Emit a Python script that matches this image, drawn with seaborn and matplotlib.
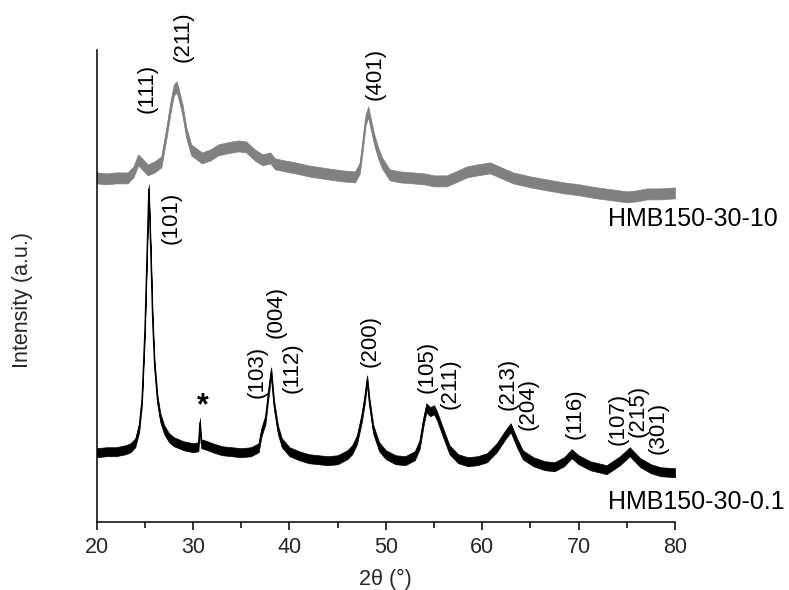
import matplotlib
matplotlib.use("Agg")
import matplotlib.pyplot as plt
import seaborn as sns
import numpy as np
import pandas as pd
from matplotlib.ticker import MultipleLocator

# ---- HMB150-30-0.1 pattern (2theta, mean intensity, a.u.) ----
two_theta_01 = [20.0, 21.0, 22.0, 23.0, 23.5, 24.0, 24.4, 24.7, 25.0, 25.2, 25.4, 25.6,
                25.8, 26.0, 26.3, 26.6, 27.0, 27.5, 28.0, 29.0, 30.0, 30.55, 30.7, 30.85,
                31.5, 32.0, 33.0, 34.0, 35.0, 36.0, 36.8, 37.1, 37.5, 37.8, 38.1, 38.4,
                38.8, 39.2, 40.0, 41.0, 42.0, 43.0, 44.0, 45.0, 46.0, 46.5, 47.0, 47.5,
                47.8, 48.06, 48.3, 48.7, 49.3, 50.0, 51.0, 52.0, 53.0, 53.5, 53.9, 54.2,
                54.6, 55.0, 55.3, 55.9, 56.6, 57.5, 58.5, 59.5, 60.5, 61.5, 62.4, 62.95,
                63.6, 64.2, 65.3, 66.5, 67.5, 68.5, 69.27, 70.0, 71.2, 72.9, 74.3, 75.3,
                76.4, 77.5, 78.5, 80.0]
intensity_01 = [69, 70, 70, 72, 74, 79, 94, 122, 192, 262, 333, 272,
                202, 157, 122, 104, 92, 84, 80, 76, 74, 75, 99, 78,
                76, 74, 71, 70, 69, 70, 74, 90, 102, 127, 150, 117,
                92, 79, 70, 66, 63, 62, 61, 62, 67, 72, 82, 104,
                122, 142, 119, 92, 75, 67, 62, 61, 66, 77, 100, 114,
                110, 112, 106, 90, 72, 63, 60, 61, 64, 74, 87, 94,
                79, 67, 60, 56, 55, 60, 68, 62, 56, 52, 61, 70,
                59, 53, 50, 49]
noise_01 = 4.5

# ---- HMB150-30-10 pattern ----
two_theta_10 = [20.0, 21.0, 22.0, 23.2, 23.8, 24.3, 24.8, 25.3, 26.0, 26.7, 27.2, 27.7,
                28.0, 28.3, 28.6, 28.9, 29.3, 29.8, 30.9, 31.8, 32.6, 33.5, 34.7, 35.5,
                36.4, 37.2, 38.0, 38.5, 39.5, 40.6, 42.0, 44.0, 45.5, 46.8, 47.3, 47.6,
                47.9, 48.17, 48.5, 48.8, 49.2, 49.6, 50.4, 51.5, 52.8, 54.0, 55.0, 56.3,
                57.5, 58.4, 59.5, 60.8, 62.0, 63.2, 65.0, 66.7, 68.5, 70.1, 71.9, 73.5,
                75.0, 76.0, 77.1, 78.5, 80.0]
intensity_10 = [344, 343, 344, 344, 350, 362, 357, 352, 355, 360, 387, 417,
                432, 435, 424, 412, 389, 372, 364, 367, 372, 374, 376, 375,
                367, 362, 364, 358, 356, 354, 351, 348, 346, 345, 354, 377,
                402, 410, 395, 382, 369, 359, 347, 345, 344, 343, 341, 341,
                346, 350, 352, 354, 349, 344, 340, 337, 334, 332, 329, 327,
                325, 326, 328, 328, 329]
noise_10 = 5.5

# ---- reflection labels: (text, 2theta, intensity) ----
hkl_10 = ["(111)", "(211)", "(401)"]
hkl_10_x = [25.22, 28.96, 48.89]
hkl_10_y = [434, 485, 448]

hkl_01 = ["(101)", "(103)", "(004)", "(112)", "(200)", "(105)", "(211)",
          "(213)", "(204)", "(116)", "(107)", "(215)", "(301)"]
hkl_01_x = [27.71, 36.64, 38.61, 40.27, 48.37, 54.29, 56.68,
            62.70, 64.78, 69.66, 74.05, 76.20, 78.30]
hkl_01_y = [304, 150, 210, 154, 181, 155, 138,
            138, 118, 108, 103, 111, 94]

samples = ["HMB150-30-10", "HMB150-30-0.1"]
sample_x = [73.1, 73.1]
sample_y = [296, 13]
colors = ["#808080", "#000000"]

sns.set_style("ticks")
plt.rcParams["font.family"] = ["Liberation Sans", "DejaVu Sans"]

fig = plt.figure(figsize=(7.89, 5.90), dpi=100)
ax = fig.add_axes([0.1226, 0.1158, 0.7329, 0.7995])

df10 = pd.DataFrame({"two_theta": two_theta_10, "intensity": intensity_10})
df01 = pd.DataFrame({"two_theta": two_theta_01, "intensity": intensity_01})

for df, noise, col in [(df10, noise_10, colors[0]), (df01, noise_01, colors[1])]:
    ax.fill_between(df["two_theta"], df["intensity"] - noise, df["intensity"] + noise,
                    color=col, linewidth=0.5, edgecolor=col)
    sns.lineplot(data=df, x="two_theta", y="intensity", color=col, linewidth=0.9,
                 ax=ax, legend=False)

for t, x, y in zip(hkl_10, hkl_10_x, hkl_10_y):
    ax.text(x, y, t, rotation=90, ha="center", va="center", fontsize=16, color="black")
for t, x, y in zip(hkl_01, hkl_01_x, hkl_01_y):
    ax.text(x, y, t, rotation=90, ha="center", va="center", fontsize=16, color="black")

ax.text(31.04, 116, "*", ha="center", va="center", fontsize=22, fontweight="bold",
        color="black")

for s, x, y in zip(samples, sample_x, sample_y):
    ax.text(x, y, s, ha="left", va="baseline", fontsize=18, color="black")

ax.set_xlim(20, 80)
ax.set_ylim(0, 472)
ax.xaxis.set_major_locator(MultipleLocator(10))
ax.xaxis.set_minor_locator(MultipleLocator(5))
ax.set_yticks([])
ax.tick_params(axis="x", which="major", direction="out", length=6, width=1.1,
               labelsize=15.5, pad=5, color="black")
ax.tick_params(axis="x", which="minor", direction="out", length=4, width=1.1,
               color="black")
for side in ["top", "right"]:
    ax.spines[side].set_visible(False)
for side in ["left", "bottom"]:
    ax.spines[side].set_linewidth(1.1)
    ax.spines[side].set_color("black")

ax.set_xlabel("2θ (°)", fontsize=15.5, labelpad=8)
ax.set_ylabel("Intensity (a.u.)", fontsize=15.5)
ax.yaxis.set_label_coords(-0.110, 0.47)

fig.savefig("out.png", dpi=100)
